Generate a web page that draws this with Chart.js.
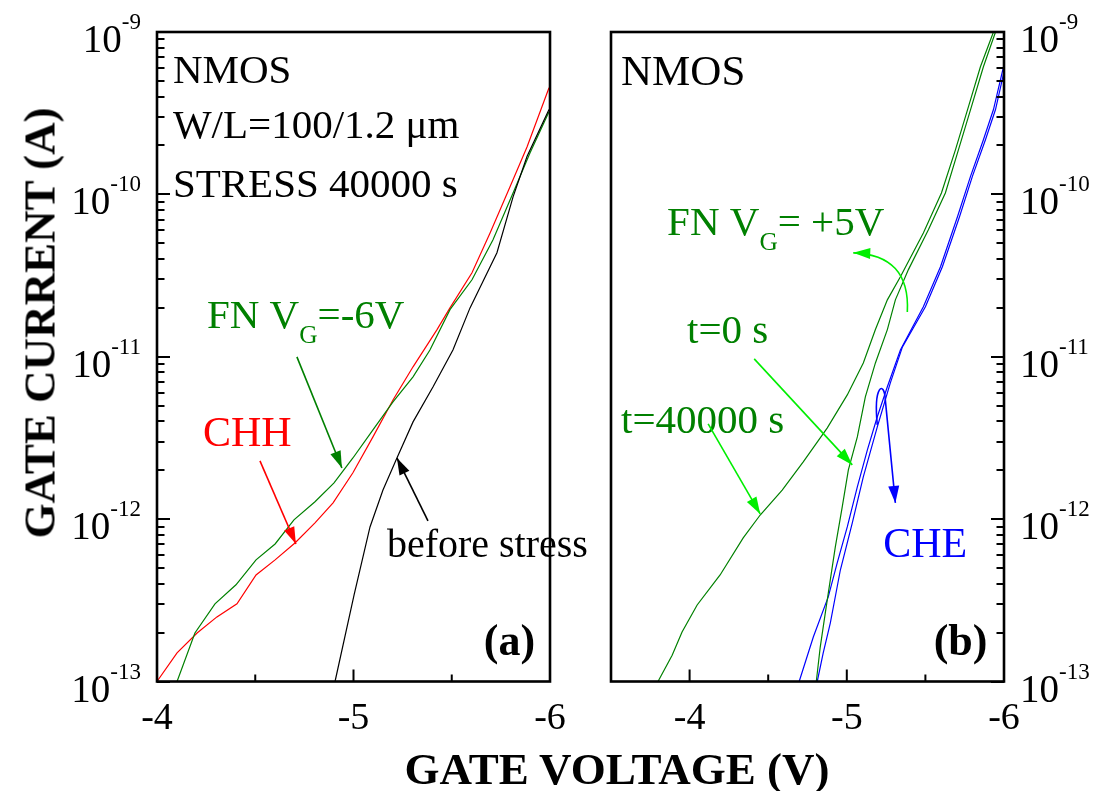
<!DOCTYPE html>
<html><head><meta charset="utf-8">
<script src="https://cdn.jsdelivr.net/npm/chart.js@4.4.1/dist/chart.umd.min.js"></script>
<style>
html,body{margin:0;padding:0;background:#fff;}
#wrap{position:relative;width:1095px;height:791px;overflow:hidden;font-family:'Liberation Serif','Times New Roman',serif;}
#c1{position:absolute;left:0;top:0;}
#c2{position:absolute;left:590px;top:0;}
.t{position:absolute;font-weight:bold;font-size:45px;white-space:nowrap;color:#000;line-height:1;transform:translate(-50%,-50%);}
#yt{transform:translate(-50%,-50%) rotate(-90deg);}
</style></head><body>
<div id="wrap">
<canvas id="c1" width="590" height="791" style="width:590px;height:791px"></canvas>
<canvas id="c2" width="505" height="791" style="width:505px;height:791px"></canvas>
<div class="t" id="xt" style="left:617px;top:769px">GATE VOLTAGE (V)</div>
<div class="t" id="yt" style="left:40px;top:323px">GATE CURRENT (A)</div>
</div>
<script>
const FONT = "'Liberation Serif','Times New Roman',serif";

// ---------- Panel (a) data: gate voltage (V) and gate current (A) ----------
const vBefore = [-4.88,-4.906,-5.003,-5.084,-5.150,-5.221,-5.303,-5.405,-5.506,-5.593,-5.730,-5.812,-5.883,-5.995];
const iBefore = [7.3e-14,1.0e-13,3.41e-13,8.95e-13,1.51e-12,2.38e-12,3.97e-12,6.53e-12,1.10e-11,2.00e-11,4.37e-11,9.66e-11,1.71e-10,3.33e-10];

const vCHH = [-4.0,-4.102,-4.204,-4.305,-4.407,-4.504,-4.601,-4.702,-4.804,-4.896,-4.997,-5.099,-5.201,-5.303,-5.425,-5.491,-5.603,-5.695,-5.796,-5.883,-5.995];
const iCHH = [1.0e-13,1.50e-13,1.99e-13,2.50e-13,3.01e-13,4.53e-13,5.61e-13,7.13e-13,9.49e-13,1.26e-12,1.93e-12,3.21e-12,5.42e-12,8.67e-12,1.47e-11,2.00e-11,3.29e-11,5.79e-11,1.11e-10,1.96e-10,4.54e-10];

const vFNneg = [-4.08,-4.102,-4.193,-4.295,-4.402,-4.504,-4.601,-4.697,-4.804,-4.901,-4.997,-5.099,-5.201,-5.303,-5.389,-5.491,-5.603,-5.710,-5.812,-5.898,-5.995];
const iFNneg = [8.5e-14,1.0e-13,1.99e-13,3.01e-13,3.94e-13,5.61e-13,7.03e-13,9.89e-13,1.28e-12,1.67e-12,2.38e-12,3.55e-12,5.27e-12,7.52e-12,1.10e-11,1.95e-11,2.98e-11,5.25e-11,1.02e-10,1.80e-10,3.23e-10];

// ---------- Panel (b) data ----------
const vFN40k = [-3.736,-3.799,-3.889,-3.952,-4.048,-4.194,-4.341,-4.449,-4.589,-4.723,-4.876,-5.003,-5.105,-5.182,-5.258,-5.341,-5.487,-5.602,-5.691,-5.774,-5.850,-5.933,-6.0];
const iFN40k = [7.76e-14,1.0e-13,1.45e-13,2.02e-13,2.96e-13,4.53e-13,7.66e-13,1.06e-12,1.51e-12,2.25e-12,3.65e-12,5.82e-12,9.16e-12,1.47e-11,2.24e-11,3.11e-11,5.79e-11,1.02e-10,1.88e-10,3.47e-10,6.11e-10,1.0e-9,1.51e-9];

const vFN0 = [-4.793,-4.806,-4.831,-4.863,-4.895,-4.927,-4.971,-5.010,-5.067,-5.118,-5.182,-5.258,-5.309,-5.392,-5.519,-5.627,-5.710,-5.793,-5.869,-5.946,-6.0];
const iFN0 = [7.76e-14,1.0e-13,1.63e-13,2.64e-13,4.22e-13,6.75e-13,1.19e-12,2.01e-12,3.21e-12,5.66e-12,9.16e-12,1.47e-11,2.24e-11,3.44e-11,6.05e-11,1.02e-10,1.88e-10,3.47e-10,6.11e-10,1.0e-9,1.41e-9];

const vCHE0 = [-4.659,-4.697,-4.787,-4.882,-4.939,-5.003,-5.067,-5.131,-5.194,-5.258,-5.341,-5.487,-5.596,-5.704,-5.787,-5.869,-5.933,-5.997];
const iCHE0 = [7.76e-14,1.0e-13,1.88e-13,3.32e-13,5.37e-13,8.95e-13,1.58e-12,2.67e-12,4.27e-12,6.53e-12,1.10e-11,2.03e-11,3.58e-11,7.28e-11,1.29e-10,2.17e-10,3.33e-10,6.11e-10];

const vCHE40k = [-4.787,-4.812,-4.850,-4.895,-4.959,-5.035,-5.105,-5.194,-5.277,-5.354,-5.500,-5.608,-5.717,-5.799,-5.882,-5.946,-6.0];
const iCHE40k = [7.76e-14,1.0e-13,1.50e-13,2.29e-13,4.86e-13,9.49e-13,1.82e-12,3.70e-12,6.90e-12,1.15e-11,2.03e-11,3.58e-11,7.28e-11,1.29e-10,2.17e-10,3.33e-10,5.69e-10];

// ---------- axes ----------
const yDecades = [-13,-12,-11,-10,-9];
const xTickLabelsA = [-4,-5,-6];
const xTickLabelsB = [-4,-5,-6];
const xMinorA = [-4.5,-5.5];
const xMinorB = [-4.5,-5.5];

const pts = (v, i) => v.map((x, k) => ({x: x, y: i[k]}));
const ds = (v, i, color) => ({data: pts(v, i), borderColor: color, borderWidth: 1.2, pointRadius: 0, fill: false, tension: 0});

function P(chart, v, l) {
  return {x: chart.scales.x.getPixelForValue(v), y: chart.scales.y.getPixelForValue(Math.pow(10, l))};
}
function head(ctx, x, y, ang, color) {
  const L = 17, W = 5.5;
  ctx.save(); ctx.translate(x, y); ctx.rotate(ang);
  ctx.beginPath(); ctx.moveTo(0, 0); ctx.lineTo(-L, -W); ctx.lineTo(-L, W); ctx.closePath();
  ctx.fillStyle = color; ctx.fill(); ctx.restore();
}
function rich(ctx, parts, x, y, size, color, bold, align) {
  let w = 0;
  const fnt = (s) => `${bold ? 'bold ' : ''}${s}px ${FONT}`;
  parts.forEach(p => { ctx.font = fnt(p.sub ? size * 0.62 : size); w += ctx.measureText(p.t).width; });
  let cx = align === 'right' ? x - w : x;
  ctx.fillStyle = color; ctx.textBaseline = 'alphabetic'; ctx.textAlign = 'left';
  parts.forEach(p => {
    ctx.font = fnt(p.sub ? size * 0.62 : size);
    ctx.fillText(p.t, cx, y + (p.sub ? size * 0.37 : 0));
    cx += ctx.measureText(p.t).width;
  });
}

function makeDecor(cfg) {
  return {
    id: 'decor' + cfg.side,
    afterDraw(chart) {
      const {ctx, chartArea: a, scales: {x, y}} = chart;
      ctx.save();
      ctx.strokeStyle = '#000'; ctx.lineWidth = 2;
      // y ticks (inward)
      const x0 = cfg.side === 'left' ? a.left : a.right;
      const dir = cfg.side === 'left' ? 1 : -1;
      ctx.beginPath();
      for (let k = 0; k < yDecades.length - 1; k++) {
        for (let m = 1; m <= 9; m++) {
          const py = Math.round(y.getPixelForValue(m * Math.pow(10, yDecades[k])));
          const len = m === 1 ? 13 : 7.5;
          ctx.moveTo(x0, py); ctx.lineTo(x0 + dir * len, py);
        }
      }
      // x ticks (inward)
      cfg.xMajor.forEach(v => { const px = x.getPixelForValue(v); ctx.moveTo(px, a.bottom); ctx.lineTo(px, a.bottom - 12); });
      cfg.xMinor.forEach(v => { const px = x.getPixelForValue(v); ctx.moveTo(px, a.bottom); ctx.lineTo(px, a.bottom - 7); });
      ctx.stroke();
      // frame
      ctx.lineWidth = 2.6;
      ctx.strokeRect(a.left, a.top, a.right - a.left, a.bottom - a.top);
      // y tick labels 10^n
      yDecades.forEach(d => {
        const py = y.getPixelForValue(Math.pow(10, d));
        const base = '10', sup = String(d);
        ctx.fillStyle = '#000'; ctx.textBaseline = 'alphabetic';
        ctx.font = `39px ${FONT}`; const wb = ctx.measureText(base).width;
        ctx.font = `23px ${FONT}`; const ws = ctx.measureText(sup).width;
        let lx = cfg.side === 'left' ? a.left - 16 - ws - wb : a.right + 16;
        ctx.textAlign = 'left';
        ctx.font = `39px ${FONT}`; ctx.fillText(base, lx, py + 20);
        ctx.font = `23px ${FONT}`; ctx.fillText(sup, lx + wb, py - 3);
      });
      // annotations
      cfg.texts.forEach(t => {
        const p = P(chart, t.v, t.l);
        rich(ctx, t.parts, p.x, p.y, t.size, t.color, t.bold, t.align);
      });
      cfg.arrows.forEach(ar => {
        ctx.strokeStyle = ar.color; ctx.lineWidth = 1.6;
        const s = P(chart, ar.from[0], ar.from[1]);
        const e = P(chart, ar.to[0], ar.to[1]);
        ctx.beginPath(); ctx.moveTo(s.x, s.y);
        let prev = s;
        if (ar.quad) { const c = P(chart, ar.quad[0], ar.quad[1]); ctx.quadraticCurveTo(c.x, c.y, e.x, e.y); prev = c; }
        else if (ar.bez) {
          const c1 = P(chart, ar.bez[0][0], ar.bez[0][1]), c2 = P(chart, ar.bez[1][0], ar.bez[1][1]), m = P(chart, ar.bez[2][0], ar.bez[2][1]);
          ctx.bezierCurveTo(c1.x, c1.y, c2.x, c2.y, m.x, m.y); ctx.lineTo(e.x, e.y); prev = m;
        } else { ctx.lineTo(e.x, e.y); }
        ctx.stroke();
        head(ctx, e.x, e.y, Math.atan2(e.y - prev.y, e.x - prev.x), ar.color);
      });
      ctx.restore();
    }
  };
}

function makeChart(id, datasets, xMax, side, pad, yWidth, decor) {
  return new Chart(document.getElementById(id), {
    type: 'line',
    data: {datasets: datasets},
    options: {
      responsive: false, animation: false, devicePixelRatio: 1,
      layout: {padding: pad},
      plugins: {legend: {display: false}, tooltip: {enabled: false}},
      scales: {
        x: {
          type: 'linear', min: -6, max: xMax, reverse: true,
          grid: {display: false}, border: {display: false},
          afterBuildTicks: s => { s.ticks = decor.xLabels.map(v => ({value: v})); },
          afterFit: s => { s.height = 109.5; },
          ticks: {color: '#000', font: {family: FONT, size: 38}, padding: 7, maxRotation: 0, autoSkip: false,
                  callback: v => String(v)}
        },
        y: {
          type: 'logarithmic', position: side, min: 1e-13, max: 1e-9,
          grid: {display: false}, border: {display: false},
          ticks: {display: false},
          afterFit: s => { s.width = yWidth; }
        }
      }
    },
    plugins: [makeDecor(decor)]
  });
}

const G = '#008000', LIME = '#00ee00', R = '#ff0000', B = '#0000ff', K = '#000000';

makeChart('c1', [ds(vBefore, iBefore, K), ds(vFNneg, iFNneg, G), ds(vCHH, iCHH, R)], -4, 'left',
  {top: 32, right: 40, left: 0, bottom: 0}, 157, {
    side: 'left', xLabels: xTickLabelsA, xMajor: xTickLabelsA, xMinor: xMinorA,
    texts: [
      {v: -4.081, l: -9.312, parts: [{t: 'NMOS'}], size: 41, color: K},
      {v: -4.081, l: -9.651, parts: [{t: 'W/L=100/1.2 \u03bcm'}], size: 41, color: K},
      {v: -4.081, l: -10.015, parts: [{t: 'STRESS 40000 s'}], size: 41, color: K},
      {v: -4.254, l: -10.822, parts: [{t: 'FN V'}, {t: 'G', sub: true}, {t: '=-6V'}], size: 41, color: G},
      {v: -4.234, l: -11.549, parts: [{t: 'CHH'}], size: 42, color: R},
      {v: -5.170, l: -12.233, parts: [{t: 'before stress'}], size: 40, color: K},
      {v: -5.924, l: -12.837, parts: [{t: '(a)'}], size: 44, color: K, bold: true, align: 'right'}
    ],
    arrows: [
      {from: [-4.712, -11.001], to: [-4.941, -11.685], color: G},
      {from: [-4.524, -11.641], to: [-4.707, -12.153], color: R},
      {from: [-5.379, -12.011], to: [-5.221, -11.623], color: K}
    ]
  });

makeChart('c2', [ds(vFN40k, iFN40k, G), ds(vFN0, iFN0, G), ds(vCHE0, iCHE0, B), ds(vCHE40k, iCHE40k, B)], -3.5, 'right',
  {top: 32, right: 0, left: 21, bottom: 0}, 91, {
    side: 'right', xLabels: xTickLabelsB, xMajor: [-4, -5], xMinor: xMinorB,
    texts: [
      {v: -3.564, l: -9.325, parts: [{t: 'NMOS'}], size: 43, color: K},
      {v: -3.857, l: -10.249, parts: [{t: 'FN V'}, {t: 'G', sub: true}, {t: '= +5V'}], size: 41, color: G},
      {v: -3.984, l: -10.914, parts: [{t: 't=0 s'}], size: 41, color: G},
      {v: -3.564, l: -11.470, parts: [{t: 't=40000 s'}], size: 41, color: G},
      {v: -5.232, l: -12.233, parts: [{t: 'CHE'}], size: 42, color: B},
      {v: -5.895, l: -12.837, parts: [{t: '(b)'}], size: 44, color: K, bold: true, align: 'right'}
    ],
    arrows: [
      {from: [-5.385, -10.724], quad: [-5.404, -10.372], to: [-5.041, -10.360], color: LIME},
      {from: [-4.411, -11.013], to: [-5.035, -11.666], color: LIME},
      {from: [-4.118, -11.414], to: [-4.449, -11.968], color: LIME},
      {from: [-5.194, -11.420], bez: [[-5.169, -11.173], [-5.239, -11.142], [-5.245, -11.266]], to: [-5.309, -11.900], color: B}
    ]
  });
</script>
</body></html>
